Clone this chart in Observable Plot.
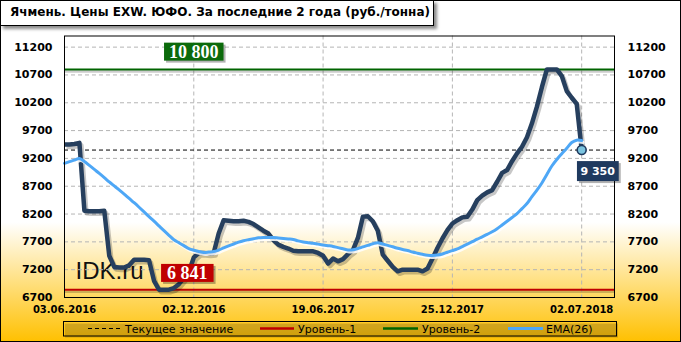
<!DOCTYPE html>
<html><head><meta charset="utf-8">
<script src="https://cdn.jsdelivr.net/npm/d3@7"></script>
<script src="https://cdn.jsdelivr.net/npm/@observablehq/plot@0.6"></script>
<style>
html,body{margin:0;padding:0;background:#fff;}
#wrap{position:relative;width:681px;height:342px;overflow:hidden;
 background:linear-gradient(to bottom,#ffffff 0%,#ffffff 65%,#FFC000 100%);
 font-family:"DejaVu Sans",sans-serif;}
#chart,#overlay{position:absolute;left:0;top:0;}
#title{position:absolute;left:0;top:0;width:434px;height:26px;box-sizing:border-box;border:1px solid #000;
 background:#fff;box-shadow:3px 3px 3px rgba(0,0,0,.45);white-space:nowrap;}
#ttext{position:absolute;left:9px;top:4px;font:bold 12px "DejaVu Sans",sans-serif;color:#000;}
#frame{position:absolute;left:0;top:0;width:681px;height:342px;box-sizing:border-box;border:1px solid #000;pointer-events:none;}
</style></head>
<body>
<div id="wrap">
 <div id="chart"></div>
 <svg id="overlay" width="681" height="342"></svg>
 <div id="title"><span id="ttext">Ячмень. Цены EXW. ЮФО. За последние 2 года (руб./тонна)</span></div>
 <div id="frame"></div>
</div>
<script>
// ---- data ----
const tickIndex = [0, 26, 52, 78, 104];
const tickLabels = ["03.06.2016", "02.12.2016", "19.06.2017", "25.12.2017", "02.07.2018"];
const yTicks = [6700, 7200, 7700, 8200, 8700, 9200, 9700, 10200, 10700, 11200];
const level1 = 6841;   // Уровень-1
const level2 = 10800;  // Уровень-2
const current = 9350;  // Текущее значение
const price = [
 9450, 9450, 9460, 9480, 8260, 8250, 8250, 8250, 8260, 7450,
 7250, 7240, 7240, 7280, 7380, 7380, 7380, 7370, 7000, 6841,
 6841, 6841, 6870, 6940, 7050, 7160, 7420, 7500, 7500, 7490,
 7500, 7850, 8090, 8080, 8070, 8070, 8080, 8060, 8020, 7960,
 7900, 7850, 7730, 7650, 7610, 7580, 7540, 7530, 7530, 7530,
 7530, 7500, 7450, 7310, 7400, 7350, 7390, 7480, 7550, 7770,
 8150, 8160, 8070, 7900, 7470, 7360, 7250, 7170, 7200, 7200,
 7200, 7200, 7170, 7220, 7400, 7590, 7760, 7910, 8030, 8090,
 8140, 8150, 8280, 8450, 8530, 8590, 8630, 8780, 8940, 8990,
 9150, 9290, 9410, 9580, 9830, 10130, 10480, 10800, 10800, 10800,
 10680, 10410, 10290, 10180, 9350
];
const ema = [
 9112, 9141, 9168, 9197, 9146, 9074, 9002, 8930, 8855, 8777,
 8705, 8633, 8559, 8480, 8403, 8322, 8239, 8154, 8072, 7987,
 7902, 7818, 7737, 7685, 7632, 7580, 7550, 7528, 7510, 7517,
 7526, 7553, 7591, 7627, 7661, 7695, 7721, 7739, 7755, 7773,
 7780, 7780, 7780, 7771, 7762, 7753, 7744, 7717, 7699, 7686,
 7674, 7659, 7645, 7632, 7618, 7596, 7577, 7555, 7557, 7580,
 7609, 7636, 7665, 7686, 7661, 7636, 7611, 7584, 7562, 7544,
 7517, 7496, 7476, 7460, 7454, 7463, 7483, 7514, 7542, 7573,
 7616, 7659, 7703, 7748, 7791, 7836, 7881, 7937, 8003, 8070,
 8138, 8208, 8298, 8388, 8513, 8630, 8759, 8912, 9063, 9180,
 9283, 9382, 9485, 9528, 9521
];
const legendItems = ["Текущее значение", "Уровень-1", "Уровень-2", "EMA(26)"];

// ---- derived tables ----
const priceData = price.map((v, i) => ({i, v}));
const emaData = ema.map((v, i) => ({i, v}));
const lastPt = priceData[priceData.length - 1];
const fmt = v => d3.format(",")(v).replace(/,/g, " ");

const navy = "#263F5E";
const lineGrid = {stroke: "#b5b5b5", strokeOpacity: 1, strokeDasharray: "4,3"};
const axisText = {tickSize: 0, fontWeight: "bold", label: null};

const plot = Plot.plot({
  width: 681, height: 342,
  marginLeft: 64, marginRight: 67, marginTop: 35.5, marginBottom: 45,
  style: {background: "none", fontFamily: "DejaVu Sans, sans-serif", fontSize: "11px", color: "#000"},
  x: {domain: [0, 110.6], axis: null},
  y: {domain: [6700, 11400], axis: null},
  marks: [
    Plot.text(["IDK.ru"], {frameAnchor: "bottom-left", dx: 11, dy: -26, textAnchor: "start", lineAnchor: "middle",
      fontFamily: "Liberation Sans, Arial, sans-serif", fontSize: 24, fill: "#111"}),
    Plot.gridY(yTicks.slice(1), lineGrid),
    Plot.gridX(tickIndex.slice(1), lineGrid),
    Plot.axisY(yTicks, {...axisText, anchor: "left", tickPadding: 12, tickFormat: d => String(d)}),
    Plot.axisY(yTicks, {...axisText, anchor: "right", tickPadding: 13, tickFormat: d => String(d)}),
    Plot.axisX(tickIndex, {...axisText, anchor: "bottom", tickPadding: 8, fontSize: 10,
      tickFormat: d => tickLabels[tickIndex.indexOf(d)]}),
    Plot.ruleY([level1, level2], {dy: 2, stroke: "#000", strokeOpacity: 0.2, strokeWidth: 2.5}),
    Plot.ruleY([level1], {stroke: "#C00000", strokeWidth: 2}),
    Plot.ruleY([level2], {stroke: "#006400", strokeWidth: 2}),
    Plot.ruleY([current], {stroke: "#000", strokeWidth: 1, strokeDasharray: "4,3"}),
    Plot.line(priceData, {x: "i", y: "v", dx: 2, dy: 2.5, stroke: "#000", strokeOpacity: 0.22, strokeWidth: 4.5,
      strokeLinejoin: "round", strokeLinecap: "butt"}),
    Plot.line(priceData, {x: "i", y: "v", stroke: navy, strokeWidth: 4.5, strokeLinejoin: "round", strokeLinecap: "butt"}),
    Plot.line(emaData, {x: "i", y: "v", curve: "catmull-rom", dx: 1.5, dy: 2, stroke: "#fff", strokeOpacity: 0.85, strokeWidth: 3}),
    Plot.line(emaData, {x: "i", y: "v", curve: "catmull-rom", stroke: "#4EA7F6", strokeWidth: 3}),
    Plot.frame({stroke: "#000", strokeWidth: 1}),
    Plot.dot([lastPt], {x: "i", y: "v", r: 4.5, fill: "#7CC4DF", stroke: "#1F3A5F", strokeWidth: 1.6}),
    Plot.text([{i: 26, v: level2}], {x: "i", y: "v", text: d => fmt(d.v), dy: -17.5,
      fill: "#fff", fontFamily: "Liberation Serif, serif", fontWeight: "bold", fontSize: 18}),
    Plot.text([{i: 24.7, v: level1}], {x: "i", y: "v", text: d => fmt(d.v), dy: -16.5,
      fill: "#fff", fontFamily: "Liberation Serif, serif", fontWeight: "bold", fontSize: 18}),
    Plot.text([lastPt], {x: "i", y: "v", text: d => fmt(d.v), dx: 16, dy: 21,
      fill: "#fff", fontFamily: "DejaVu Sans, sans-serif", fontWeight: "bold", fontSize: 11})
  ]
});
document.getElementById("chart").appendChild(plot);

// label boxes behind value labels
const boxes = {};
boxes[fmt(level2)] = {fill: "#0B6A0B", px: 5, py: -1};
boxes[fmt(level1)] = {fill: "#C00000", px: 6, py: -1};
boxes[fmt(current)] = {fill: "#1F3A5F", px: 3.5, py: 3.5};
const NS = "http://www.w3.org/2000/svg";
plot.querySelectorAll("text").forEach(t => {
  const cfg = boxes[t.textContent];
  if (!cfg) return;
  const b = t.getBBox();
  const tr = t.getAttribute("transform");
  const mk = (off, fill, op) => {
    const r = document.createElementNS(NS, "rect");
    r.setAttribute("x", b.x - cfg.px + off);
    r.setAttribute("y", b.y - cfg.py + off);
    r.setAttribute("width", b.width + 2 * cfg.px);
    r.setAttribute("height", b.height + 2 * cfg.py);
    r.setAttribute("fill", fill);
    r.setAttribute("fill-opacity", op);
    r.setAttribute("stroke", "none");
    if (tr) r.setAttribute("transform", tr);
    t.parentNode.insertBefore(r, t);
  };
  mk(2, "#000", 0.3);
  mk(0, cfg.fill, 1);
});

// legend
const ov = d3.select("#overlay");
ov.append("rect").attr("x", 65).attr("y", 323.5).attr("width", 553).attr("height", 14).attr("fill", "#000").attr("opacity", 0.18);
ov.append("rect").attr("x", 63.5).attr("y", 321.5).attr("width", 553).attr("height", 14.5).attr("fill", "none").attr("stroke", "#000");
const samples = [
  {x1: 88, x2: 120, stroke: "#000", w: 1, dash: "4,3", tx: 125},
  {x1: 260, x2: 294, stroke: "#C00000", w: 2.5, dash: null, tx: 298},
  {x1: 383, x2: 418, stroke: "#006400", w: 2.5, dash: null, tx: 422},
  {x1: 508, x2: 543, stroke: "#4EA7F6", w: 3, dash: null, tx: 546}
];
samples.forEach((s, k) => {
  ov.append("line").attr("x1", s.x1).attr("x2", s.x2).attr("y1", 328.5).attr("y2", 328.5)
    .attr("stroke", s.stroke).attr("stroke-width", s.w).attr("stroke-dasharray", s.dash);
  ov.append("text").attr("x", s.tx).attr("y", 332.5).attr("font-family", "DejaVu Sans, sans-serif")
    .attr("font-size", 11).attr("fill", "#000").text(legendItems[k]);
});

// fit title width
const tt = document.getElementById("ttext");
const w = tt.getBoundingClientRect().width;
tt.style.letterSpacing = ((420 - w) / tt.textContent.length) + "px";
</script>
</body></html>
